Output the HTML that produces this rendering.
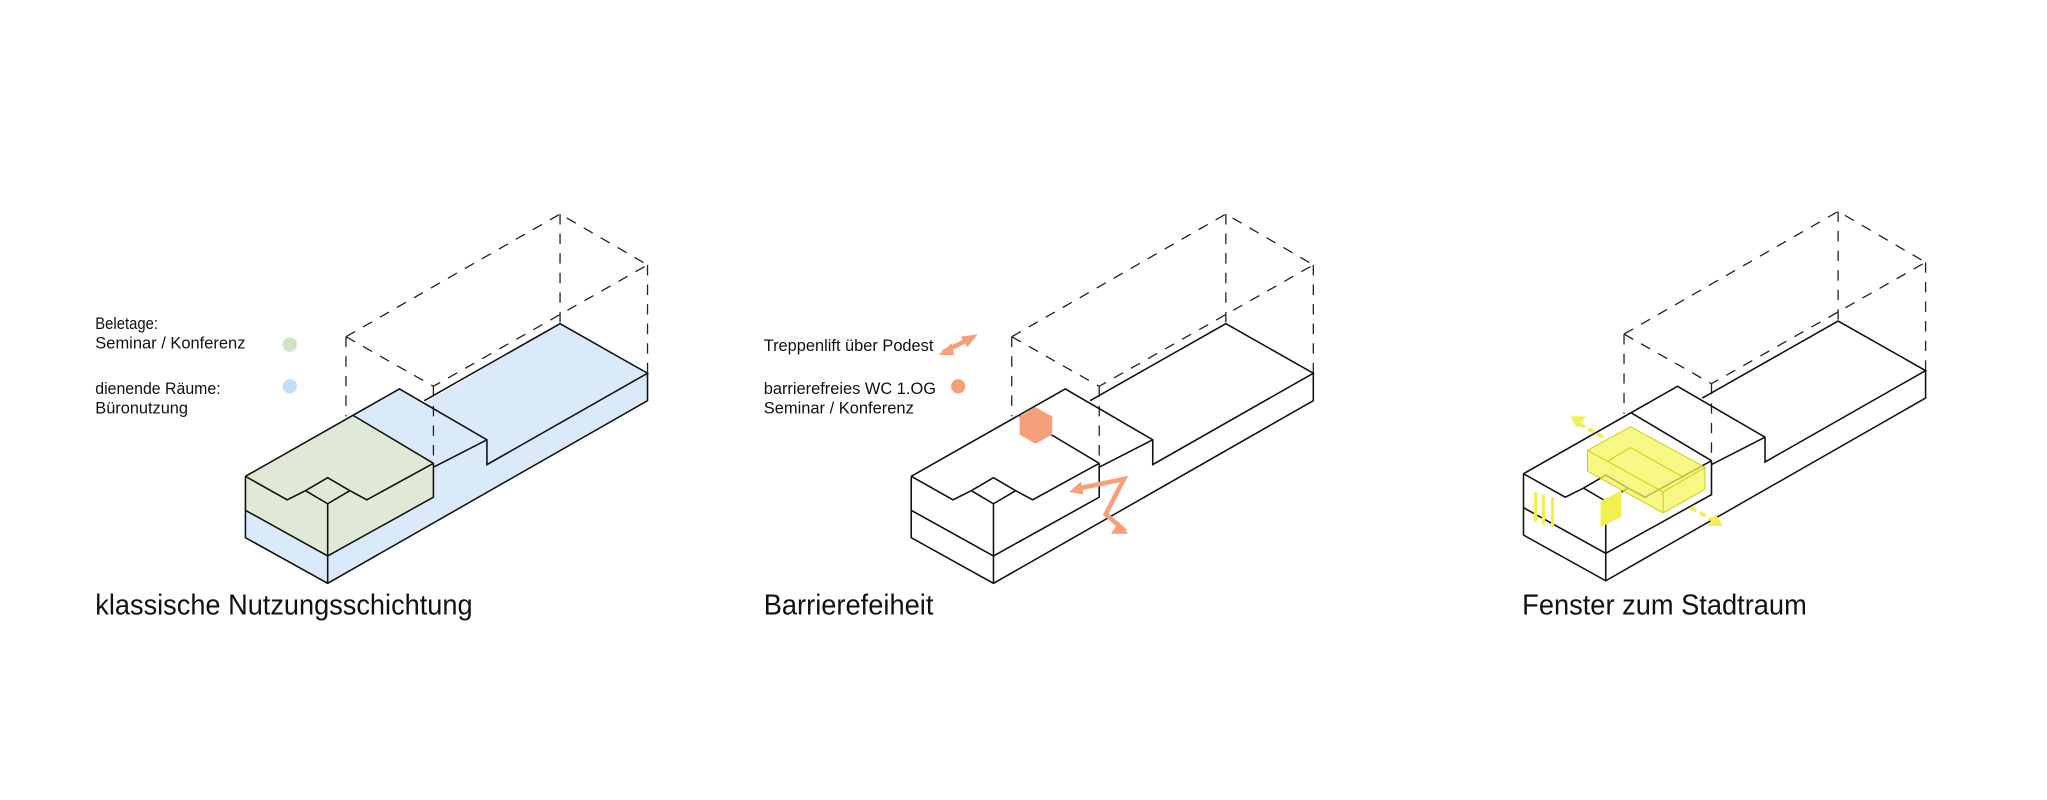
<!DOCTYPE html>
<html><head><meta charset="utf-8"><style>
html,body{margin:0;padding:0;background:#fff;}
svg{display:block;}
text{font-family:"Liberation Sans",sans-serif;fill:#111;}
</style></head><body>
<svg width="2047" height="800" viewBox="0 0 1568 613" preserveAspectRatio="none" xmlns="http://www.w3.org/2000/svg">
<defs>
<g id="dash" fill="none" stroke="#222" stroke-width="1" stroke-dasharray="8,7">
  <polyline points="265,258 429,164 496,203"/>
  <polyline points="265,258 332,296 496,203"/>
  <line x1="429" y1="164" x2="429" y2="248"/>
  <line x1="496" y1="203" x2="496" y2="286"/>
  <line x1="265" y1="258" x2="265" y2="319"/>
  <line x1="332" y1="296" x2="332" y2="356"/>
</g>
<g id="solid" fill="none" stroke="#111" stroke-width="1.2" stroke-linejoin="miter">
  <polyline points="188,365 306,298 373,337 373,356 496,286 429,248 325,307"/>
  <polyline points="496,286 496,307 251,447 188,412 188,365"/>
  <line x1="251" y1="386" x2="251" y2="447"/>
  <polyline points="188,391 251,426 332,381 332,355"/>
  <line x1="270" y1="318" x2="332" y2="355"/>
  <line x1="332" y1="358" x2="373" y2="337"/>
  <polyline points="188,365 220,383 234,376 251,386 268,376 281,383 332,355"/>
  <polyline points="234,376 251,366 268,376"/>
</g>
</defs>

<!-- Panel 1 -->
<polygon points="188,365 306,298 325,309 429,248 496,286 496,307 251,447 188,412" fill="#dbeafa"/>
<polygon points="188,365 270,318 332,355 332,381 251,426 188,391" fill="#dfe9d5"/>
<use href="#dash"/>
<use href="#solid"/>
<text x="73" y="252" font-size="12.5" textLength="48" lengthAdjust="spacingAndGlyphs">Beletage:</text>
<text x="73" y="267" font-size="12.5" textLength="115" lengthAdjust="spacingAndGlyphs">Seminar / Konferenz</text>
<text x="73" y="302" font-size="12.5" textLength="96" lengthAdjust="spacingAndGlyphs">dienende Räume:</text>
<text x="73" y="317" font-size="12.5" textLength="71" lengthAdjust="spacingAndGlyphs">Büronutzung</text>
<circle cx="222" cy="264" r="5.5" fill="#cfe3c2"/>
<circle cx="222" cy="296" r="5.5" fill="#c5def8"/>
<text x="73" y="471" font-size="22" textLength="289" lengthAdjust="spacingAndGlyphs">klassische Nutzungsschichtung</text>

<!-- Panel 2 -->
<g transform="translate(510,0)">
  <use href="#dash"/>
  <use href="#solid"/>
</g>
<polygon points="793,312 806,319 806,333 793,340 781,333 781,319" fill="#f5a07a"/>
<circle cx="734" cy="296" r="5.5" fill="#f5a07a"/>
<g fill="none" stroke="#f5a07a" stroke-width="3.5" stroke-linejoin="miter">
  <line x1="722" y1="270" x2="746" y2="258"/>
  <polyline points="823,375 861,367 847,394 862,407"/>
</g>
<g fill="#f5a07a">
  <polygon points="719,272 729,263 731,272"/>
  <polygon points="749,256 736,258 741,266"/>
  <polygon points="819,377 828,369 830,379"/>
  <polygon points="864,409 851,409 857,400"/>
</g>
<text x="585" y="269" font-size="12.5" textLength="130" lengthAdjust="spacingAndGlyphs">Treppenlift über Podest</text>
<text x="585" y="302" font-size="12.5" textLength="132" lengthAdjust="spacingAndGlyphs">barrierefreies WC 1.OG</text>
<text x="585" y="317" font-size="12.5" textLength="115" lengthAdjust="spacingAndGlyphs">Seminar / Konferenz</text>
<text x="585" y="471" font-size="22" textLength="130" lengthAdjust="spacingAndGlyphs">Barrierefeiheit</text>

<!-- Panel 3 -->
<g transform="translate(979,-2)">
  <use href="#dash"/>
  <use href="#solid"/>
</g>
<g stroke="#c8c800" stroke-width="0.7" fill="#f4f45a" fill-opacity="0.75">
  <polygon points="1216,345 1249,327 1306,358 1306,375 1274,393 1216,361"/>
  <polyline fill="none" points="1216,345 1274,377 1306,358"/>
  <line x1="1274" y1="377" x2="1274" y2="393"/>
  <polyline fill="none" points="1232,353 1249,343 1290,366"/>
</g>
<g fill="#f0f050">
  <rect x="1175" y="377" width="2.5" height="23"/>
  <rect x="1181" y="379" width="2.5" height="23"/>
  <rect x="1188" y="381" width="2.5" height="23"/>
  <polygon points="1226,384 1242,376 1242,396 1226,404"/>
</g>
<g stroke="#f0f050" stroke-width="3" fill="none" stroke-dasharray="5,3">
  <line x1="1228" y1="335" x2="1210" y2="325"/>
  <line x1="1295" y1="389" x2="1313" y2="399"/>
</g>
<g fill="#f0f050">
  <polygon points="1203,319 1215,319 1208,328"/>
  <polygon points="1320,403 1308,403 1314,394"/>
</g>
<text x="1166" y="471" font-size="22" textLength="218" lengthAdjust="spacingAndGlyphs">Fenster zum Stadtraum</text>
</svg>
</body></html>
